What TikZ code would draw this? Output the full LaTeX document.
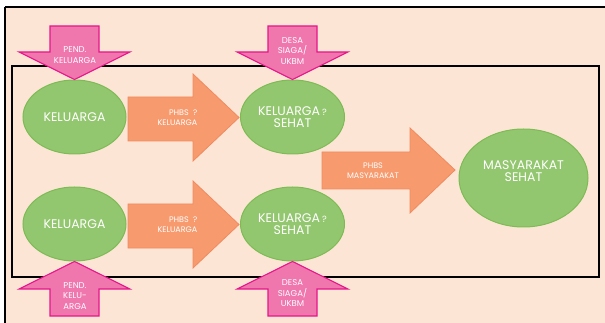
\documentclass[tikz,border=0pt]{standalone}
\usepackage{fontspec}
\setmainfont{Poppins}
\usetikzlibrary{shapes.geometric}
\definecolor{peach}{HTML}{FDE5D5}
\definecolor{leaf}{HTML}{93C76F}
\definecolor{leafline}{HTML}{7DBB55}
\definecolor{salmon}{HTML}{F79B6F}
\definecolor{salmonline}{HTML}{F08A5E}
\definecolor{rose}{HTML}{F076AE}
\definecolor{roseline}{HTML}{E6168C}
\tikzset{
  blob/.style={ellipse, draw=leafline, line width=1pt, fill=leaf, inner sep=0pt,
    text=white, align=center, font=\fontsize{12.5}{12}\selectfont},
  pinkarrow/.style={draw=roseline, line width=1.1pt, fill=rose, line join=miter},
  orangearrow/.style={draw=salmonline, line width=0.8pt, fill=salmon, line join=miter},
  pinklabel/.style={text=white, align=center, inner sep=0pt, font=\fontsize{8.5}{10.5}\selectfont},
  orangelabel/.style={text=white, inner sep=0pt, font=\fontsize{8}{10.5}\selectfont},
}
\begin{document}
\begin{tikzpicture}[x=1pt,y=-1pt]
  \useasboundingbox (0,0) rectangle (605,323);
  % page and frame
  \fill[white] (0,0) rectangle (605,323);
  \fill[peach] (5,7) rectangle (605,323);
  \draw[line width=2pt] (5,7) -- (605,7);
  \draw[line width=2.6pt] (5,7) -- (5,323);
  \draw[line width=1.1pt] (12,66) rectangle (599,277);

  % ellipses
  \node[blob, minimum width=103pt, minimum height=74pt] (k1) at (74.5,117) {KELUARGA};
  \node[blob, minimum width=103pt, minimum height=74pt] (k2) at (74.5,224) {KELUARGA};
  \node[blob, minimum width=104pt, minimum height=74pt] (s1) at (292.5,117)
    {KELUARGA\,{\fontsize{9}{9}\selectfont ?}\\SEHAT};
  \node[blob, minimum width=104pt, minimum height=74pt] (s2) at (292.5,224)
    {KELUARGA\,{\fontsize{9}{9}\selectfont ?}\\SEHAT};
  \node[blob, minimum width=129pt, minimum height=98pt, text depth=14pt] (ms) at (523.5,178)
    {MASYARAKAT\\SEHAT};

  % pink arrows, down into the upper row and up into the lower row
  \filldraw[pinkarrow] (50,26) -- (99,26) -- (99,52) -- (130,52) -- (k1.north)
    -- (19,52) -- (50,52) -- cycle;
  \filldraw[pinkarrow] (268,26) -- (317,26) -- (317,52) -- (348,52) -- (s1.north)
    -- (237,52) -- (268,52) -- cycle;
  \filldraw[pinkarrow] (50,316) -- (99,316) -- (99,289) -- (130,289) -- (k2.south)
    -- (19,289) -- (50,289) -- cycle;
  \filldraw[pinkarrow] (268,316) -- (317,316) -- (317,289) -- (348,289) -- (s2.south)
    -- (237,289) -- (268,289) -- cycle;
  \node[pinklabel] (p1) at (75,55) {PEND.\\KELUARGA};
  \node[pinklabel] (p2) at (292.5,51) {DESA\\SIAGA/\\UKBM};
  \node[pinklabel] (p3) at (75,296) {PEND.\\KELU-\\ARGA};
  \node[pinklabel] (p4) at (292.5,293.5) {DESA\\SIAGA/\\UKBM};

  % orange arrows
  \filldraw[orangearrow] (128,97) -- (193,97) -- (193,74) -- (239,117.5)
    -- (193,161) -- (193,141) -- (128,141) -- cycle;
  \filldraw[orangearrow] (128,204) -- (193,204) -- (193,181) -- (239,224.5)
    -- (193,268) -- (193,248) -- (128,248) -- cycle;
  \filldraw[orangearrow] (322,152) -- (410,152) -- (410,128) -- (455,170)
    -- (410,213) -- (410,189) -- (322,189) -- cycle;
  \node[orangelabel, align=right, anchor=east] (o1) at (197.5,117.5) {PHBS \ ?\\KELUARGA};
  \node[orangelabel, align=right, anchor=east] (o2) at (197.5,224.5) {PHBS \ ?\\KELUARGA};
  \node[orangelabel, align=center] (o3) at (373,170.5) {PHBS\\MASYARAKAT};
\end{tikzpicture}
\end{document}
